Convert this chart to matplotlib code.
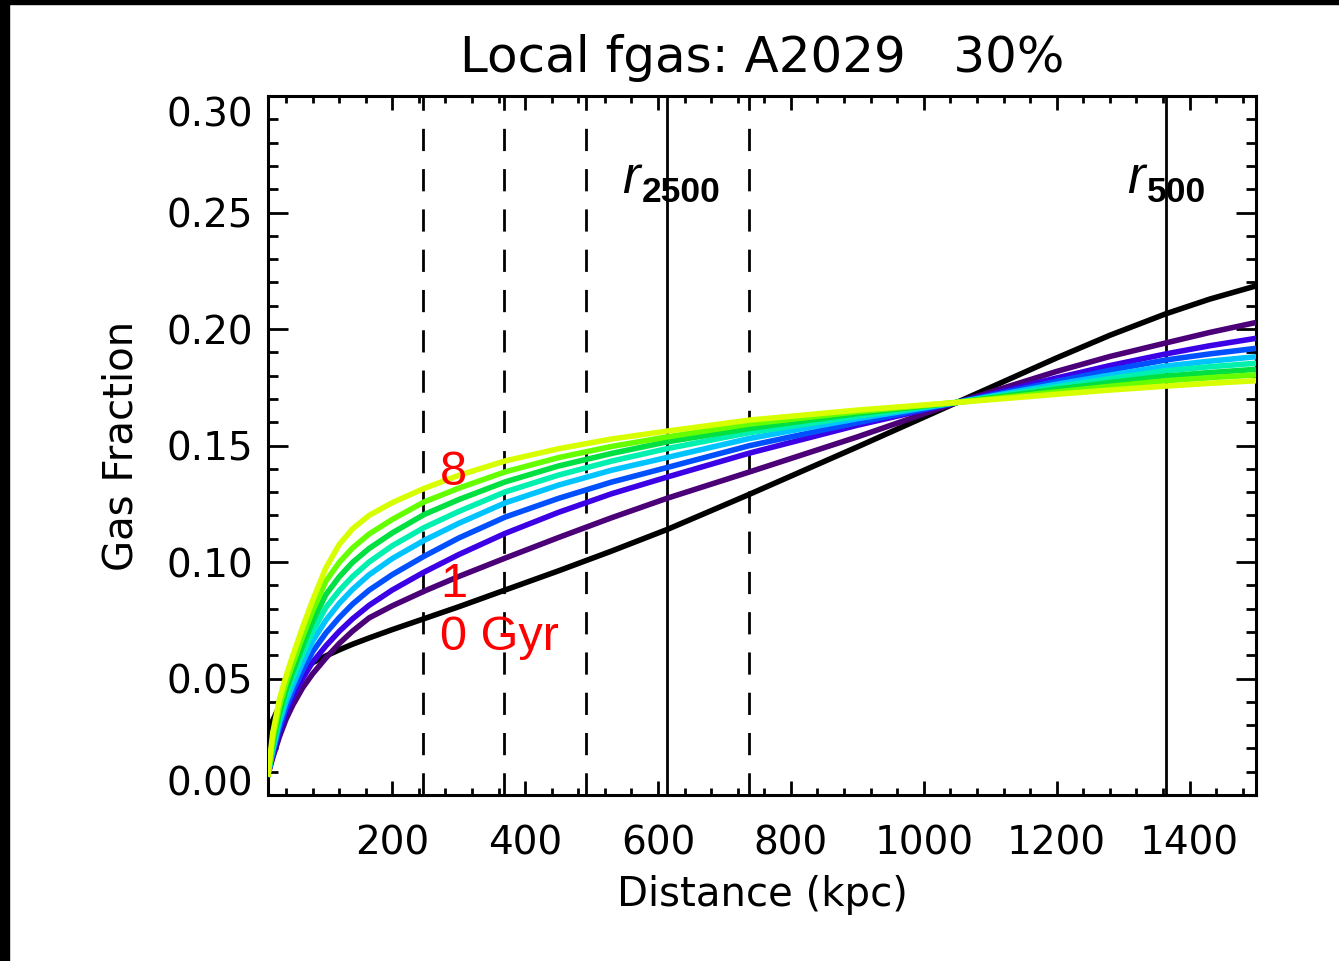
import matplotlib
matplotlib.use("Agg")
import matplotlib.pyplot as plt
from matplotlib.patches import Rectangle
import numpy as np

plt.rcParams['font.family'] = ['DejaVu Sans']
plt.rcParams['lines.scale_dashes'] = False

# radius samples (kpc) shared by every profile
radius = [13, 20, 30, 40, 50, 65, 80, 100, 120, 140, 165, 200, 248, 300,
          370, 450, 530, 614, 737, 900, 1050, 1200, 1280, 1364, 1430, 1500]

# gas fraction profiles, 0 Gyr first, then 1..8 Gyr
fgas_0 = [0.028, 0.032, 0.038, 0.0435, 0.048, 0.0535, 0.0568, 0.0597, 0.0623, 0.0647,
          0.0674, 0.0710, 0.0757, 0.0808, 0.0880, 0.0962, 0.1047, 0.1140, 0.1290,
          0.1494, 0.1685, 0.1876, 0.1973, 0.2065, 0.2128, 0.2185]
fgas_1 = [0.009, 0.016, 0.025, 0.0325, 0.0385, 0.0460, 0.0520, 0.0588, 0.0650, 0.0703,
          0.0760, 0.0812, 0.0875, 0.0938, 0.1017, 0.1105, 0.1190, 0.1274, 0.1386,
          0.1537, 0.1685, 0.1818, 0.1882, 0.1940, 0.1985, 0.2028]
fgas_2 = [0.009, 0.017, 0.027, 0.035, 0.042, 0.050, 0.057, 0.0640, 0.0702, 0.0756,
          0.0814, 0.0880, 0.0957, 0.1032, 0.1123, 0.1213, 0.1293, 0.1365, 0.1467,
          0.1587, 0.1685, 0.1790, 0.1843, 0.1893, 0.1928, 0.1960]
fgas_3 = [0.009, 0.018, 0.029, 0.0375, 0.0445, 0.0535, 0.0615, 0.0695, 0.0761, 0.0819,
          0.0879, 0.0946, 0.1025, 0.1103, 0.1193, 0.1273, 0.1343, 0.1406, 0.1499,
          0.1598, 0.1685, 0.1775, 0.1823, 0.1867, 0.1893, 0.1917]
fgas_4 = [0.009, 0.019, 0.031, 0.040, 0.047, 0.057, 0.066, 0.0750, 0.0822, 0.0882,
          0.0945, 0.1015, 0.1093, 0.1166, 0.1254, 0.1330, 0.1394, 0.1449, 0.1530,
          0.1615, 0.1685, 0.1763, 0.1802, 0.1841, 0.1862, 0.1881]
fgas_5 = [0.009, 0.020, 0.033, 0.0425, 0.050, 0.0605, 0.070, 0.0805, 0.0877, 0.0937,
          0.1000, 0.1070, 0.1148, 0.1217, 0.1301, 0.1373, 0.1433, 0.1487, 0.1555,
          0.1625, 0.1685, 0.1752, 0.1787, 0.1821, 0.1838, 0.1853]
fgas_6 = [0.009, 0.022, 0.035, 0.045, 0.053, 0.064, 0.0745, 0.0860, 0.0936, 0.0998,
          0.1058, 0.1125, 0.1204, 0.1268, 0.1344, 0.1412, 0.1466, 0.1516, 0.1573,
          0.1637, 0.1685, 0.1742, 0.1770, 0.1798, 0.1813, 0.1827]
fgas_7 = [0.009, 0.024, 0.038, 0.048, 0.056, 0.068, 0.079, 0.0918, 0.0998, 0.1060,
          0.1120, 0.1183, 0.1258, 0.1317, 0.1387, 0.1448, 0.1496, 0.1537, 0.1592,
          0.1645, 0.1685, 0.1730, 0.1754, 0.1778, 0.1791, 0.1803]
fgas_8 = [0.009, 0.0265, 0.041, 0.051, 0.0597, 0.0720, 0.0835, 0.0975, 0.1075, 0.1142,
          0.1200, 0.1255, 0.1316, 0.1372, 0.1434, 0.1486, 0.1528, 0.1562, 0.1609,
          0.1652, 0.1685, 0.1720, 0.1738, 0.1755, 0.1767, 0.1778]

profiles = [fgas_0, fgas_1, fgas_2, fgas_3, fgas_4, fgas_5, fgas_6, fgas_7, fgas_8]
colors = ['black', '#4b0078', '#3c00e6', '#0050ff', '#00c4ff',
          '#00f0b0', '#00e040', '#66ff00', '#d8ff00']

r2500 = 614
r500 = 1364
shell_fracs = [0.4, 0.6, 0.8, 1.2]

fig = plt.figure(figsize=(13.39, 9.61), dpi=100)
ax = fig.add_axes([0.2002, 0.1727, 0.7378, 0.7274])

for prof, c in zip(profiles, colors):
    ax.plot(radius, prof, color=c, lw=4.0, solid_joinstyle='round', zorder=3)

for f in shell_fracs:
    ax.axvline(f * r2500, color='black', lw=2.0, dashes=(16, 13), zorder=2)
ax.axvline(r2500, color='black', lw=2.0, zorder=2)
ax.axvline(r500, color='black', lw=2.0, zorder=2)

ax.set_xlim(13, 1500)
ax.set_ylim(0, 0.30)
ax.set_xticks([200, 400, 600, 800, 1000, 1200, 1400])
ax.set_xticks(np.arange(40, 1500, 40), minor=True)
ax.set_yticks([0.0, 0.05, 0.10, 0.15, 0.20, 0.25, 0.30])
ax.set_yticks(np.arange(0.01, 0.30, 0.01), minor=True)
ax.set_yticklabels(['0.00', '0.05', '0.10', '0.15', '0.20', '0.25', '0.30'])

ax.tick_params(which='both', direction='in', top=True, right=True,
               width=2.0, labelsize=28, color='black')
ax.tick_params(axis='y', which='major', length=14.5, pad=11)
ax.tick_params(axis='y', which='minor', length=7)
ax.tick_params(axis='x', which='major', length=10, pad=21)
ax.tick_params(axis='x', which='minor', length=5)
for s in ax.spines.values():
    s.set_linewidth(2.2)

ylabs = ax.get_yticklabels()
ylabs[0].set_va('baseline')
ylabs[-1].set_va('top')

ax.set_xlabel('Distance (kpc)', fontsize=29, labelpad=9)
ax.set_ylabel('Gas Fraction', fontsize=29, labelpad=18)
ax.set_title('Local fgas: A2029   30%', fontsize=36, pad=17)

# age labels
lab_font = dict(color='red', fontsize=35, family='Liberation Sans')
ax.text(272, 0.133, '8', **lab_font)
ax.text(272, 0.085, '1', **lab_font)
ax.text(272, 0.0622, '0 Gyr', **lab_font)

# overdensity radius labels
for sub, xr, xs in [('2500', 546, 575), ('500', 1306, 1336)]:
    ax.text(xr, 0.2584, 'r', fontsize=38, style='italic',
            family='Liberation Sans', color='black')
    ax.text(xs, 0.2545, sub, fontsize=25.5, weight='bold',
            family='Liberation Sans', color='black')

# dark frame edges along the top and left
fig.patches.append(Rectangle((0, 1 - 4 / 961), 1, 4 / 961, transform=fig.transFigure,
                             color='black', zorder=10))
fig.patches.append(Rectangle((0, 0), 9 / 1339, 1, transform=fig.transFigure,
                             color='black', zorder=10))

fig.savefig('out.png', dpi=100)
